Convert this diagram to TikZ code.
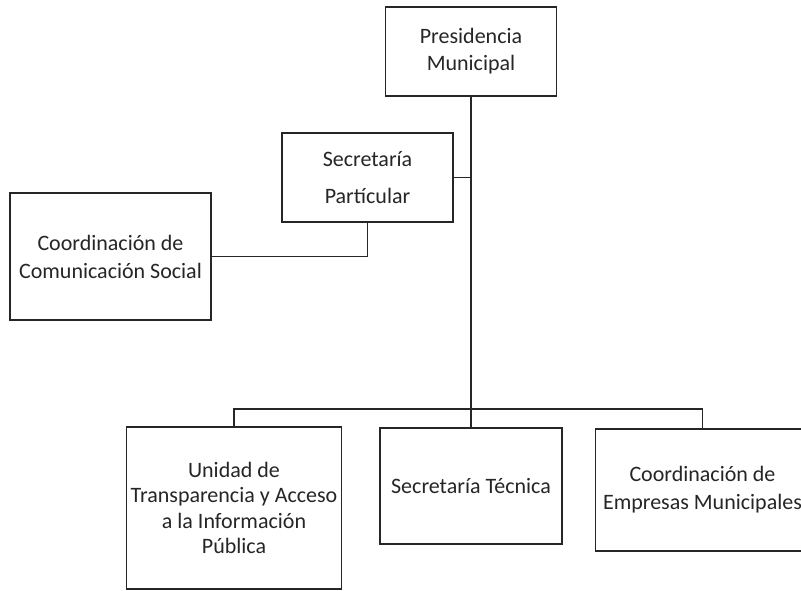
\documentclass[tikz,border=0pt]{standalone}
\usepackage{fontspec}
\setmainfont{Carlito}
\begin{document}
\begin{tikzpicture}[x=1pt,y=-1pt,
  orgbox/.style={draw=black!85, line width=1.8pt, fill=white, inner sep=0pt, align=center,
    text=black!85, font=\fontsize{22}{27}\selectfont},
  link/.style={draw=black!85, line width=1.8pt}]
\fill[white] (0,0) rectangle (801,590);
\useasboundingbox (0,0) rectangle (801,590);
\node[orgbox, minimum width=171pt, minimum height=89pt] (pres) at (471,51.5) {Presidencia\\Municipal};
\node[orgbox, minimum width=171pt, minimum height=89pt, font=\fontsize{22}{37}\selectfont] (part) at (367.5,177.5) {Secretaría\\Partícular};
\node[orgbox, minimum width=201pt, minimum height=127pt, font=\fontsize{22}{28}\selectfont] (coord) at (110.5,256.5) {Coordinación de\\Comunicación Social};
\node[orgbox, minimum width=215pt, minimum height=162pt, font=\fontsize{22}{25.5}\selectfont] (unidad) at (234,508) {Unidad de\\Transparencia y Acceso\\a la Información\\Pública};
\node[orgbox, minimum width=182pt, minimum height=116pt] (tec) at (471,486) {Secretaría Técnica};
\node[orgbox, minimum width=214pt, minimum height=122pt, font=\fontsize{22}{28}\selectfont] (emp) at (702.5,490) {Coordinación de\\Empresas Municipales};
\coordinate (bus) at (471,409);
\draw[link] (pres.south) -- (tec.north);
\draw[link] (part.east) -- (part.east -| pres.south);
\draw[link] (part.south) |- (coord.east);
\draw[link] (unidad.north) -- (unidad.north |- bus) -- (emp.north |- bus) -- (emp.north);
\end{tikzpicture}
\end{document}
